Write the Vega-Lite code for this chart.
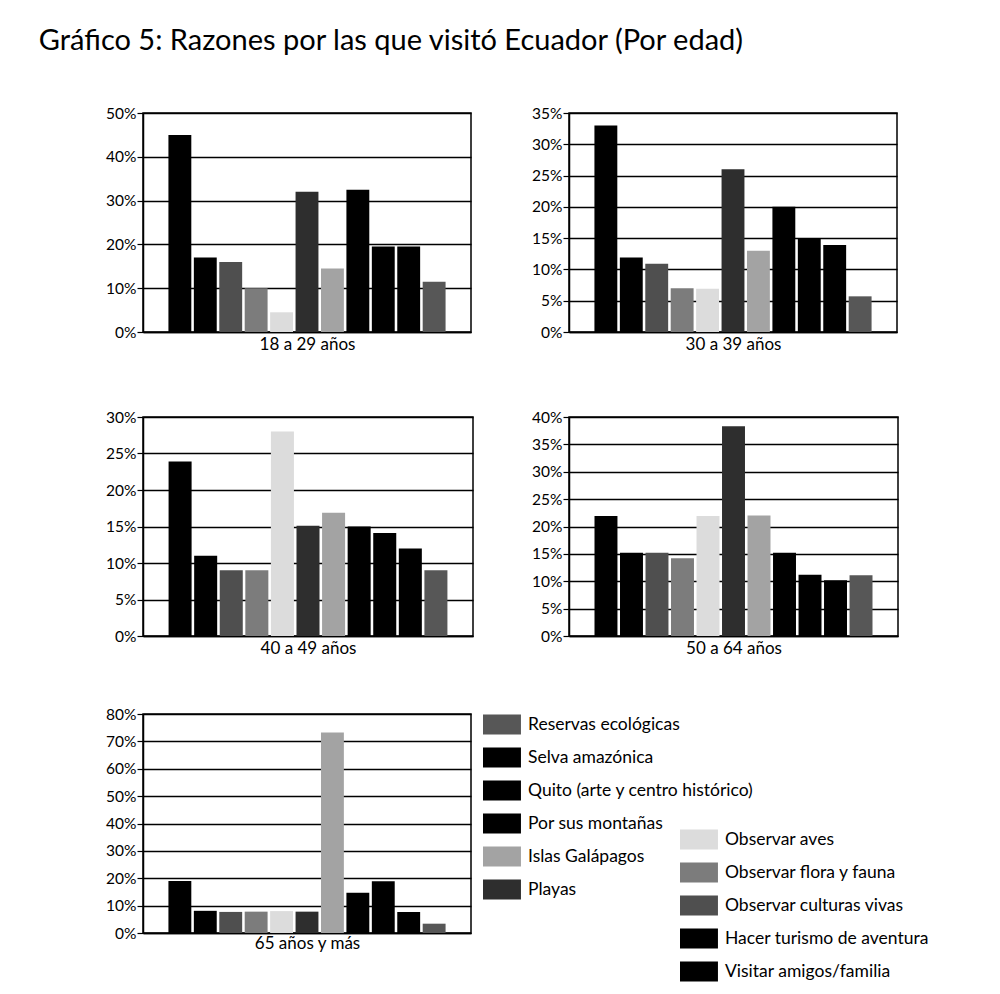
{
  "$schema": "https://vega.github.io/schema/vega-lite/v6.json",
  "padding": {"left": 38, "top": 27, "right": 5, "bottom": 5},
  "title": {"text": "Gráfico 5: Razones por las que visitó Ecuador (Por edad)", "anchor": "start", "fontSize": 29, "font": "Lato", "fontWeight": "normal", "color": "black", "dx": -66, "offset": 49},
  "datasets": {
    "d": [
      {"edad": "18 a 29 años", "razon": "Visitar amigos/familia", "pct": 45},
      {"edad": "18 a 29 años", "razon": "Hacer turismo de aventura", "pct": 17},
      {"edad": "18 a 29 años", "razon": "Observar culturas vivas", "pct": 16},
      {"edad": "18 a 29 años", "razon": "Observar flora y fauna", "pct": 10},
      {"edad": "18 a 29 años", "razon": "Observar aves", "pct": 4.5},
      {"edad": "18 a 29 años", "razon": "Playas", "pct": 32},
      {"edad": "18 a 29 años", "razon": "Islas Galápagos", "pct": 14.5},
      {"edad": "18 a 29 años", "razon": "Por sus montañas", "pct": 32.5},
      {"edad": "18 a 29 años", "razon": "Quito (arte y centro histórico)", "pct": 19.5},
      {"edad": "18 a 29 años", "razon": "Selva amazónica", "pct": 19.5},
      {"edad": "18 a 29 años", "razon": "Reservas ecológicas", "pct": 11.5},
      {"edad": "30 a 39 años", "razon": "Visitar amigos/familia", "pct": 33},
      {"edad": "30 a 39 años", "razon": "Hacer turismo de aventura", "pct": 11.9},
      {"edad": "30 a 39 años", "razon": "Observar culturas vivas", "pct": 10.9},
      {"edad": "30 a 39 años", "razon": "Observar flora y fauna", "pct": 7},
      {"edad": "30 a 39 años", "razon": "Observar aves", "pct": 6.9},
      {"edad": "30 a 39 años", "razon": "Playas", "pct": 26},
      {"edad": "30 a 39 años", "razon": "Islas Galápagos", "pct": 13},
      {"edad": "30 a 39 años", "razon": "Por sus montañas", "pct": 20},
      {"edad": "30 a 39 años", "razon": "Quito (arte y centro histórico)", "pct": 14.9},
      {"edad": "30 a 39 años", "razon": "Selva amazónica", "pct": 13.9},
      {"edad": "30 a 39 años", "razon": "Reservas ecológicas", "pct": 5.7},
      {"edad": "40 a 49 años", "razon": "Visitar amigos/familia", "pct": 23.9},
      {"edad": "40 a 49 años", "razon": "Hacer turismo de aventura", "pct": 11},
      {"edad": "40 a 49 años", "razon": "Observar culturas vivas", "pct": 9},
      {"edad": "40 a 49 años", "razon": "Observar flora y fauna", "pct": 9},
      {"edad": "40 a 49 años", "razon": "Observar aves", "pct": 28},
      {"edad": "40 a 49 años", "razon": "Playas", "pct": 15.1},
      {"edad": "40 a 49 años", "razon": "Islas Galápagos", "pct": 16.9},
      {"edad": "40 a 49 años", "razon": "Por sus montañas", "pct": 15},
      {"edad": "40 a 49 años", "razon": "Quito (arte y centro histórico)", "pct": 14.1},
      {"edad": "40 a 49 años", "razon": "Selva amazónica", "pct": 12},
      {"edad": "40 a 49 años", "razon": "Reservas ecológicas", "pct": 9},
      {"edad": "50 a 64 años", "razon": "Visitar amigos/familia", "pct": 21.9},
      {"edad": "50 a 64 años", "razon": "Hacer turismo de aventura", "pct": 15.2},
      {"edad": "50 a 64 años", "razon": "Observar culturas vivas", "pct": 15.2},
      {"edad": "50 a 64 años", "razon": "Observar flora y fauna", "pct": 14.2},
      {"edad": "50 a 64 años", "razon": "Observar aves", "pct": 21.9},
      {"edad": "50 a 64 años", "razon": "Playas", "pct": 38.3},
      {"edad": "50 a 64 años", "razon": "Islas Galápagos", "pct": 22},
      {"edad": "50 a 64 años", "razon": "Por sus montañas", "pct": 15.2},
      {"edad": "50 a 64 años", "razon": "Quito (arte y centro histórico)", "pct": 11.2},
      {"edad": "50 a 64 años", "razon": "Selva amazónica", "pct": 10.2},
      {"edad": "50 a 64 años", "razon": "Reservas ecológicas", "pct": 11.1},
      {"edad": "65 años  y más", "razon": "Visitar amigos/familia", "pct": 19},
      {"edad": "65 años  y más", "razon": "Hacer turismo de aventura", "pct": 8.1},
      {"edad": "65 años  y más", "razon": "Observar culturas vivas", "pct": 7.7},
      {"edad": "65 años  y más", "razon": "Observar flora y fauna", "pct": 7.8},
      {"edad": "65 años  y más", "razon": "Observar aves", "pct": 8},
      {"edad": "65 años  y más", "razon": "Playas", "pct": 7.8},
      {"edad": "65 años  y más", "razon": "Islas Galápagos", "pct": 73.2},
      {"edad": "65 años  y más", "razon": "Por sus montañas", "pct": 14.7},
      {"edad": "65 años  y más", "razon": "Quito (arte y centro histórico)", "pct": 18.9},
      {"edad": "65 años  y más", "razon": "Selva amazónica", "pct": 7.7},
      {"edad": "65 años  y más", "razon": "Reservas ecológicas", "pct": 3.4}
    ]
  },
  "data": {"name": "d"},
  "config": {
    "font": "Lato",
    "view": {"stroke": "black", "strokeWidth": 1.5},
    "axis": {"labelFont": "Lato", "labelFontSize": 15.5, "labelColor": "black", "titleFont": "Lato", "titleFontSize": 17, "titleColor": "black", "titleFontWeight": "normal"},
    "axisY": {"grid": true, "gridColor": "black", "gridOpacity": 1, "gridWidth": 1.5, "domainColor": "black", "domainWidth": 1.5, "tickColor": "black", "tickSize": 6, "tickWidth": 1.2, "labelPadding": 1, "title": null},
    "axisX": {"labels": false, "ticks": false, "domainColor": "black", "domainWidth": 1.5, "titlePadding": 4},
    "legend": {"labelFont": "Lato", "labelFontSize": 17.5, "labelColor": "black", "labelLimit": 0, "symbolType": "M-1,-0.6H1.3V0.6H-1Z", "symbolSize": 1089, "symbolStrokeWidth": 0, "symbolOpacity": 1, "rowPadding": 6, "labelOffset": 12, "title": null}
  },
  "vconcat": [
    {
      "hconcat": [
        {
          "width": 328, "height": 219,
          "transform": [{"filter": "datum.edad === '18 a 29 años'"}],
          "encoding": {
            "x": {"field": "razon", "type": "nominal", "scale": {"domain": ["Visitar amigos/familia", "Hacer turismo de aventura", "Observar culturas vivas", "Observar flora y fauna", "Observar aves", "Playas", "Islas Galápagos", "Por sus montañas", "Quito (arte y centro histórico)", "Selva amazónica", "Reservas ecológicas"], "paddingInner": 0.1, "paddingOuter": 1.45}, "axis": {"title": "18 a 29 años"}},
            "y": {"field": "pct", "type": "quantitative", "scale": {"domain": [0, 50]}, "axis": {"values": [0, 10, 20, 30, 40, 50], "labelExpr": "datum.value + '%'"}}
          },
          "layer": [
            {"transform": [{"filter": {"field": "razon", "oneOf": ["Reservas ecológicas", "Selva amazónica", "Quito (arte y centro histórico)", "Por sus montañas", "Islas Galápagos", "Playas"]}}], "mark": {"type": "bar"},
             "encoding": {"fill": {"field": "razon", "type": "nominal", "scale": {"domain": ["Reservas ecológicas", "Selva amazónica", "Quito (arte y centro histórico)", "Por sus montañas", "Islas Galápagos", "Playas"], "range": ["#575757", "#000000", "#000000", "#000000", "#a3a3a3", "#2e2e2e"]}, "legend": {"orient": "none", "legendX": 340, "legendY": 595}}}},
            {"transform": [{"filter": {"field": "razon", "oneOf": ["Observar aves", "Observar flora y fauna", "Observar culturas vivas", "Hacer turismo de aventura", "Visitar amigos/familia"]}}], "mark": {"type": "bar"},
             "encoding": {"color": {"field": "razon", "type": "nominal", "scale": {"domain": ["Observar aves", "Observar flora y fauna", "Observar culturas vivas", "Hacer turismo de aventura", "Visitar amigos/familia"], "range": ["#dcdcdc", "#7c7c7c", "#4f4f4f", "#000000", "#000000"]}, "legend": {"orient": "none", "legendX": 537, "legendY": 710}}}}
          ]
        },
        {
          "width": 328, "height": 219,
          "transform": [{"filter": "datum.edad === '30 a 39 años'"}],
          "encoding": {
            "x": {"field": "razon", "type": "nominal", "scale": {"domain": ["Visitar amigos/familia", "Hacer turismo de aventura", "Observar culturas vivas", "Observar flora y fauna", "Observar aves", "Playas", "Islas Galápagos", "Por sus montañas", "Quito (arte y centro histórico)", "Selva amazónica", "Reservas ecológicas"], "paddingInner": 0.1, "paddingOuter": 1.45}, "axis": {"title": "30 a 39 años"}},
            "y": {"field": "pct", "type": "quantitative", "scale": {"domain": [0, 35]}, "axis": {"values": [0, 5, 10, 15, 20, 25, 30, 35], "labelExpr": "datum.value + '%'"}}
          },
          "layer": [
            {"transform": [{"filter": {"field": "razon", "oneOf": ["Reservas ecológicas", "Selva amazónica", "Quito (arte y centro histórico)", "Por sus montañas", "Islas Galápagos", "Playas"]}}], "mark": {"type": "bar"},
             "encoding": {"fill": {"field": "razon", "type": "nominal"}}},
            {"transform": [{"filter": {"field": "razon", "oneOf": ["Observar aves", "Observar flora y fauna", "Observar culturas vivas", "Hacer turismo de aventura", "Visitar amigos/familia"]}}], "mark": {"type": "bar"},
             "encoding": {"color": {"field": "razon", "type": "nominal"}}}
          ]
        }
      ],
      "spacing": 58
    },
    {
      "vconcat": [
        {
          "hconcat": [
            {
              "width": 330, "height": 219,
              "transform": [{"filter": "datum.edad === '40 a 49 años'"}],
              "encoding": {
                "x": {"field": "razon", "type": "nominal", "scale": {"domain": ["Visitar amigos/familia", "Hacer turismo de aventura", "Observar culturas vivas", "Observar flora y fauna", "Observar aves", "Playas", "Islas Galápagos", "Por sus montañas", "Quito (arte y centro histórico)", "Selva amazónica", "Reservas ecológicas"], "paddingInner": 0.1, "paddingOuter": 1.45}, "axis": {"title": "40 a 49 años"}},
                "y": {"field": "pct", "type": "quantitative", "scale": {"domain": [0, 30]}, "axis": {"values": [0, 5, 10, 15, 20, 25, 30], "labelExpr": "datum.value + '%'"}}
              },
              "layer": [
                {"transform": [{"filter": {"field": "razon", "oneOf": ["Reservas ecológicas", "Selva amazónica", "Quito (arte y centro histórico)", "Por sus montañas", "Islas Galápagos", "Playas"]}}], "mark": {"type": "bar"},
                 "encoding": {"fill": {"field": "razon", "type": "nominal"}}},
                {"transform": [{"filter": {"field": "razon", "oneOf": ["Observar aves", "Observar flora y fauna", "Observar culturas vivas", "Hacer turismo de aventura", "Visitar amigos/familia"]}}], "mark": {"type": "bar"},
                 "encoding": {"color": {"field": "razon", "type": "nominal"}}}
              ]
            },
            {
              "width": 329, "height": 219,
              "transform": [{"filter": "datum.edad === '50 a 64 años'"}],
              "encoding": {
                "x": {"field": "razon", "type": "nominal", "scale": {"domain": ["Visitar amigos/familia", "Hacer turismo de aventura", "Observar culturas vivas", "Observar flora y fauna", "Observar aves", "Playas", "Islas Galápagos", "Por sus montañas", "Quito (arte y centro histórico)", "Selva amazónica", "Reservas ecológicas"], "paddingInner": 0.1, "paddingOuter": 1.45}, "axis": {"title": "50 a 64 años"}},
                "y": {"field": "pct", "type": "quantitative", "scale": {"domain": [0, 40]}, "axis": {"values": [0, 5, 10, 15, 20, 25, 30, 35, 40], "labelExpr": "datum.value + '%'"}}
              },
              "layer": [
                {"transform": [{"filter": {"field": "razon", "oneOf": ["Reservas ecológicas", "Selva amazónica", "Quito (arte y centro histórico)", "Por sus montañas", "Islas Galápagos", "Playas"]}}], "mark": {"type": "bar"},
                 "encoding": {"fill": {"field": "razon", "type": "nominal"}}},
                {"transform": [{"filter": {"field": "razon", "oneOf": ["Observar aves", "Observar flora y fauna", "Observar culturas vivas", "Hacer turismo de aventura", "Visitar amigos/familia"]}}], "mark": {"type": "bar"},
                 "encoding": {"color": {"field": "razon", "type": "nominal"}}}
              ]
            }
          ],
          "spacing": 56
        },
        {
          "width": 328, "height": 219,
          "transform": [{"filter": "datum.edad === '65 años  y más'"}],
          "encoding": {
            "x": {"field": "razon", "type": "nominal", "scale": {"domain": ["Visitar amigos/familia", "Hacer turismo de aventura", "Observar culturas vivas", "Observar flora y fauna", "Observar aves", "Playas", "Islas Galápagos", "Por sus montañas", "Quito (arte y centro histórico)", "Selva amazónica", "Reservas ecológicas"], "paddingInner": 0.1, "paddingOuter": 1.45}, "axis": {"title": "65 años  y más", "titlePadding": 2}},
            "y": {"field": "pct", "type": "quantitative", "scale": {"domain": [0, 80]}, "axis": {"values": [0, 10, 20, 30, 40, 50, 60, 70, 80], "labelExpr": "datum.value + '%'"}}
          },
          "layer": [
            {"transform": [{"filter": {"field": "razon", "oneOf": ["Reservas ecológicas", "Selva amazónica", "Quito (arte y centro histórico)", "Por sus montañas", "Islas Galápagos", "Playas"]}}], "mark": {"type": "bar"},
             "encoding": {"fill": {"field": "razon", "type": "nominal"}}},
            {"transform": [{"filter": {"field": "razon", "oneOf": ["Observar aves", "Observar flora y fauna", "Observar culturas vivas", "Hacer turismo de aventura", "Visitar amigos/familia"]}}], "mark": {"type": "bar"},
             "encoding": {"color": {"field": "razon", "type": "nominal"}}}
          ]
        }
      ],
      "spacing": 49
    }
  ],
  "spacing": 56
}
